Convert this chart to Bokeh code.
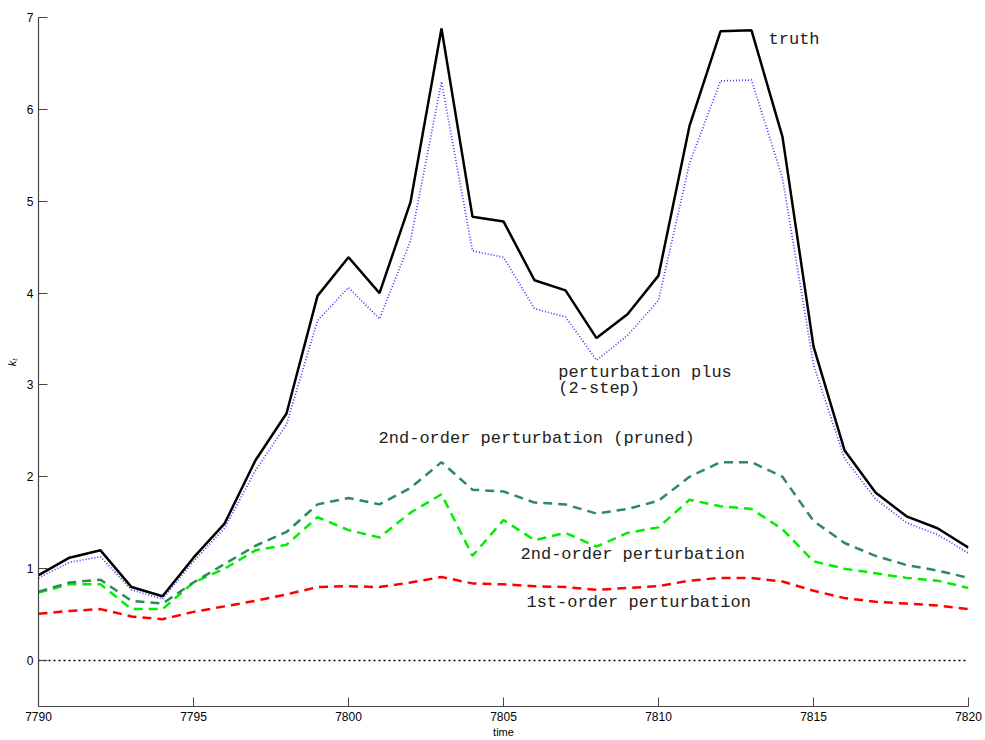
from bokeh.plotting import figure
from bokeh.models import Range1d, FixedTicker
from bokeh.core.properties import value
from bokeh.embed import file_html
from bokeh.resources import INLINE

# Time index
time = list(range(7790, 7821))

# Capital k_t paths
truth = [0.93, 1.12, 1.20, 0.80, 0.70, 1.12, 1.49, 2.18, 2.69, 3.97,
         4.39, 4.00, 4.99, 6.88, 4.83, 4.78, 4.14, 4.03, 3.51, 3.77,
         4.19, 5.82, 6.85, 6.86, 5.70, 3.42, 2.29, 1.83, 1.57, 1.44, 1.23]
pert_plus = [0.90, 1.07, 1.13, 0.77, 0.67, 1.08, 1.44, 2.07, 2.57, 3.70,
             4.06, 3.72, 4.57, 6.30, 4.46, 4.39, 3.83, 3.74, 3.27, 3.54,
             3.92, 5.41, 6.31, 6.32, 5.25, 3.22, 2.20, 1.76, 1.50, 1.37, 1.17]
pruned2 = [0.75, 0.85, 0.88, 0.65, 0.62, 0.85, 1.05, 1.25, 1.40, 1.70,
           1.77, 1.70, 1.88, 2.16, 1.86, 1.84, 1.72, 1.70, 1.60, 1.65,
           1.74, 2.00, 2.16, 2.16, 2.00, 1.52, 1.28, 1.14, 1.04, 0.98, 0.90]
order2 = [0.74, 0.83, 0.83, 0.56, 0.56, 0.85, 1.00, 1.20, 1.26, 1.56,
          1.42, 1.34, 1.61, 1.81, 1.14, 1.53, 1.31, 1.39, 1.24, 1.39,
          1.45, 1.75, 1.68, 1.65, 1.43, 1.08, 1.00, 0.95, 0.90, 0.87, 0.79]
order1 = [0.51, 0.54, 0.56, 0.48, 0.45, 0.53, 0.59, 0.65, 0.72, 0.80,
          0.81, 0.80, 0.85, 0.91, 0.84, 0.83, 0.81, 0.80, 0.77, 0.79,
          0.81, 0.87, 0.90, 0.90, 0.86, 0.76, 0.68, 0.64, 0.62, 0.60, 0.56]
zero_line = [0.0] * len(time)

x_ticks = [7790, 7795, 7800, 7805, 7810, 7815, 7820]
y_ticks = [0, 1, 2, 3, 4, 5, 6, 7]

# Curve annotations
label_text = ["truth", "perturbation plus", "(2-step)",
              "2nd-order perturbation (pruned)", "2nd-order perturbation",
              "1st-order perturbation"]
label_x = [7813.55, 7806.77, 7806.77, 7800.97, 7805.55, 7805.74]
label_y = [6.76, 3.14, 2.96, 2.42, 1.15, 0.63]

p = figure(width=985, height=740, output_backend="svg", toolbar_location=None,
           x_range=Range1d(7790, 7820), y_range=Range1d(-0.5, 7))
p.min_border_left = 38
p.min_border_right = 17
p.min_border_top = 17
p.min_border_bottom = 33
p.outline_line_color = None
p.background_fill_color = "white"
p.border_fill_color = "white"
p.xgrid.visible = False
p.ygrid.visible = False

for ax in (p.xaxis[0], p.yaxis[0]):
    ax.axis_line_color = "#444444"
    ax.axis_line_width = 1.2
    ax.major_tick_line_color = "#444444"
    ax.major_tick_in = 9
    ax.major_tick_out = 0
    ax.minor_tick_line_color = None
    ax.major_label_text_font = "Liberation Sans"
    ax.major_label_text_font_size = "12px"
    ax.major_label_text_color = "black"
    ax.axis_label_text_font = "Liberation Sans"
    ax.axis_label_text_font_size = "11px"
    ax.axis_label_text_color = "black"

p.xaxis.ticker = FixedTicker(ticks=x_ticks)
p.yaxis.ticker = FixedTicker(ticks=y_ticks)
p.xaxis.axis_label = "time"
p.xaxis.axis_label_text_font_style = "normal"
p.xaxis.axis_label_standoff = 2
p.xaxis.major_label_standoff = 5
p.yaxis.axis_label = "k\u209c"
p.yaxis.axis_label_text_font_style = "italic"
p.yaxis.axis_label_standoff = 6
p.yaxis.major_label_standoff = 5

p.line(time, zero_line, line_color="black", line_width=1.5, line_dash="2 3")
p.line(time, order1, line_color="red", line_width=2.5, line_dash="9 6")
p.line(time, order2, line_color="#00ee00", line_width=2.5, line_dash="9 6")
p.line(time, pruned2, line_color="#2e8b57", line_width=2.5, line_dash="9 6")
p.line(time, pert_plus, line_color="#3a3aff", line_width=1.7, line_dash="1 2")
p.line(time, truth, line_color="black", line_width=2.5)

p.text(x=label_x, y=label_y, text=label_text,
       text_font=value("Liberation Mono"), text_font_size="17px",
       text_color="#222222", text_baseline="middle", text_align="left")

open("out.html", "w").write(file_html(p, INLINE))
